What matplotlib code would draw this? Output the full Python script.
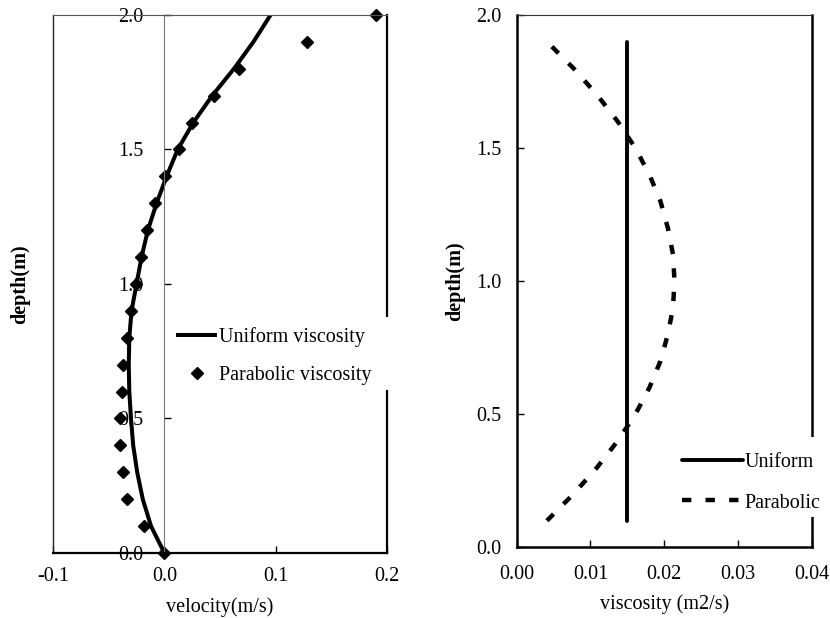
import matplotlib
matplotlib.use("Agg")
import matplotlib.pyplot as plt
from matplotlib.patches import Rectangle
from matplotlib.ticker import FormatStrFormatter

plt.rcParams['font.family'] = ['Liberation Serif', 'DejaVu Serif']
plt.rcParams['axes.unicode_minus'] = False

# velocity profiles
depth = [0.0, 0.1, 0.2, 0.3, 0.4, 0.5, 0.6, 0.7, 0.8, 0.9, 1.0,
         1.1, 1.2, 1.3, 1.4, 1.5, 1.6, 1.7, 1.8, 1.9, 2.0]
vel_uniform = [0.0, -0.012, -0.0194, -0.0244, -0.028, -0.030, -0.0315, -0.032,
               -0.0315, -0.0295, -0.025, -0.0205, -0.0148, -0.007, 0.002,
               0.012, 0.026, 0.043, 0.0625, 0.080, 0.0954]
vel_parabolic = [0.0, -0.0184, -0.0337, -0.037, -0.040, -0.040, -0.0385, -0.037,
                 -0.034, -0.030, -0.0256, -0.021, -0.0157, -0.008, 0.0005,
                 0.013, 0.025, 0.045, 0.067, 0.128, 0.190]

# eddy viscosity profiles
depth_uniform = [0.1, 1.9]
visc_uniform = [0.015, 0.015]
depth_parabolic = [0.1, 0.2, 0.3, 0.4, 0.5, 0.6, 0.7, 0.8, 0.9, 1.0,
                   1.1, 1.2, 1.3, 1.4, 1.5, 1.6, 1.7, 1.8, 1.9]
visc_parabolic = [0.0041, 0.0077, 0.0109, 0.0137, 0.0161, 0.0180, 0.0195, 0.0205, 0.0212, 0.0214,
                  0.0212, 0.0205, 0.0195, 0.0180, 0.0161, 0.0137, 0.0109, 0.0077, 0.0041]

FS = 14.5

fig = plt.figure(figsize=(8.3, 6.18), dpi=100)
ax1 = fig.add_axes([0.0639, 0.1052, 0.4024, 0.8706])
ax2 = fig.add_axes([0.6225, 0.1144, 0.3554, 0.8613])

# --- left: velocity ---
ax1.plot(vel_uniform, depth, color='black', lw=2.9, solid_capstyle='butt',
         label='Uniform viscosity')
ax1.plot(vel_parabolic, depth, ls='none', marker='D', ms=6, color='black',
         label='Parabolic viscosity', clip_on=False)
ax1.set_xlim(-0.1, 0.2)
ax1.set_ylim(0, 2.0)
ax1.set_xticks([-0.1, 0.0, 0.1, 0.2])
ax1.set_yticks([0.0, 0.5, 1.0, 1.5, 2.0])
ax1.xaxis.set_major_formatter(FormatStrFormatter('%.1f'))
ax1.yaxis.set_major_formatter(FormatStrFormatter('%.1f'))

# y axis crosses at zero velocity
ax1.spines['left'].set_position(('data', 0))
ax1.spines['left'].set_color('#777777')
ax1.spines['left'].set_linewidth(0.8)
ax1.spines['top'].set_color('#555555')
ax1.spines['top'].set_linewidth(0.8)
ax1.spines['right'].set_linewidth(1.6)
ax1.spines['bottom'].set_linewidth(1.6)
ax1.plot([0, 0], [0, 1], transform=ax1.transAxes, color='#222222', lw=1.0,
         clip_on=False)
ax1.tick_params(axis='x', direction='in', length=5, width=1, labelsize=FS, pad=10)
ax1.tick_params(axis='y', direction='in', length=5, width=1, labelsize=FS, pad=15)

ax1.set_xlabel('velocity(m/s)', fontsize=FS)
ax1.set_ylabel('depth(m)', fontsize=FS, fontweight='bold')
ax1.xaxis.set_label_coords(0.5, -0.083)
ax1.yaxis.set_label_coords(-0.068, 0.5)

ax1.legend(loc='upper left', bbox_to_anchor=(0.200, 0.487),
           bbox_transform=fig.transFigure, fontsize=FS, frameon=False,
           handlelength=2.05, handletextpad=0.1, labelspacing=0.95,
           borderpad=0.5, numpoints=1, borderaxespad=0)
# legend background breaks the right border
ax1.add_patch(Rectangle((0.97, 0.303), 0.06, 0.136, transform=ax1.transAxes,
                        facecolor='white', edgecolor='none', zorder=3,
                        clip_on=False))

# --- right: viscosity ---
ax2.plot(visc_uniform, depth_uniform, color='black', lw=2.8,
         solid_capstyle='round', label='Uniform')
ax2.plot(visc_parabolic, depth_parabolic, color='black', lw=3.2,
         dashes=(2.1, 3.2), dash_capstyle='butt', label='Parabolic')
ax2.set_xlim(0, 0.04)
ax2.set_ylim(0, 2.0)
ax2.set_xticks([0.0, 0.01, 0.02, 0.03, 0.04])
ax2.set_yticks([0.0, 0.5, 1.0, 1.5, 2.0])
ax2.xaxis.set_major_formatter(FormatStrFormatter('%.2f'))
ax2.yaxis.set_major_formatter(FormatStrFormatter('%.1f'))
ax2.spines['top'].set_linewidth(0.8)
ax2.spines['top'].set_color('#333333')
for side in ['left', 'right', 'bottom']:
    ax2.spines[side].set_linewidth(1.8)
ax2.tick_params(axis='x', direction='in', length=5, width=1, labelsize=FS, pad=13)
ax2.tick_params(axis='y', direction='in', length=5, width=1, labelsize=FS, pad=11)

ax2.set_xlabel('viscosity (m2/s)', fontsize=FS)
ax2.set_ylabel('depth(m)', fontsize=FS, fontweight='bold')
ax2.xaxis.set_label_coords(0.5, -0.088)
ax2.yaxis.set_label_coords(-0.175, 0.5)

ax2.legend(loc='upper left', bbox_to_anchor=(0.810, 0.283),
           bbox_transform=fig.transFigure, fontsize=FS, frameon=False,
           handlelength=3.0, handletextpad=0.1, labelspacing=1.05,
           borderpad=0.5, borderaxespad=0)
ax2.add_patch(Rectangle((0.97, 0.057), 0.06, 0.150, transform=ax2.transAxes,
                        facecolor='white', edgecolor='none', zorder=3,
                        clip_on=False))

fig.savefig('out.png', dpi=100)
